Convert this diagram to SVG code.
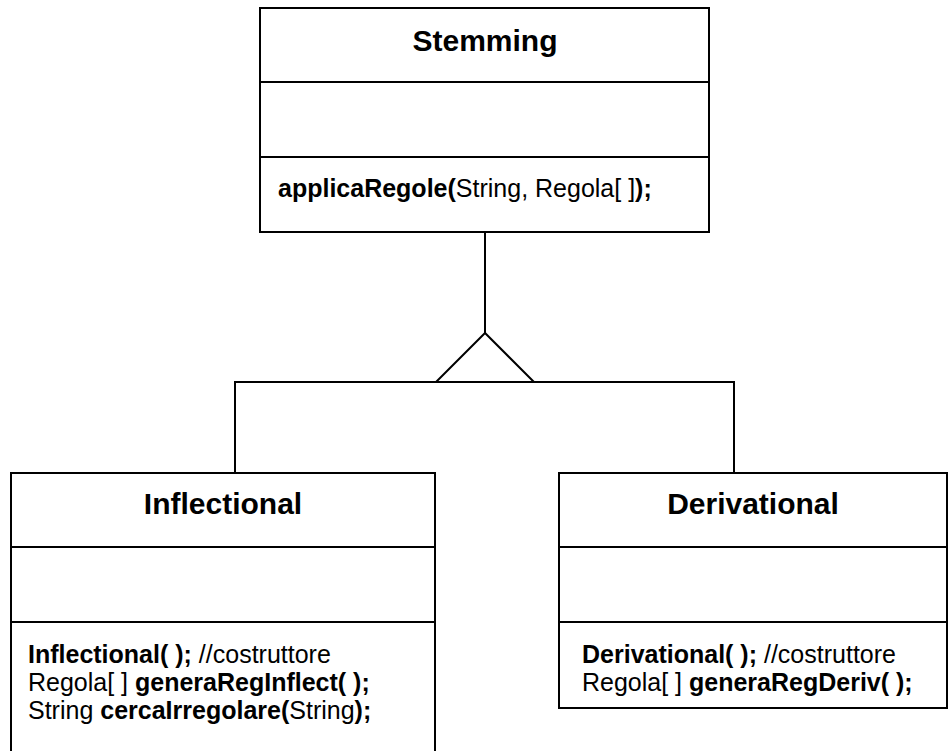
<svg xmlns="http://www.w3.org/2000/svg" width="949" height="751" viewBox="0 0 949 751">
  <style>
    .box { fill: #ffffff; stroke: #000000; stroke-width: 2; }
    .sep { stroke: #000000; stroke-width: 2; }
    .title { font-family: "Liberation Sans", Arial, sans-serif; font-size: 30px; font-weight: bold; fill: #000; text-anchor: middle; }
    .op { font-family: "Liberation Sans", Arial, sans-serif; font-size: 25px; fill: #000; }
    .b { font-weight: bold; }
    .conn { fill: none; stroke: #000000; stroke-width: 2; }
  </style>
  <rect width="949" height="751" fill="#ffffff"/>

  <!-- generalization connectors -->
  <g id="connectors">
    <line class="conn" x1="485" y1="232" x2="485" y2="333"/>
    <polygon class="conn" points="485,333 436,382 534,382"/>
    <polyline class="conn" points="235,473 235,382 734,382 734,473"/>
  </g>

  <!-- Stemming class -->
  <g id="stemming">
    <rect class="box" x="260" y="8" width="449" height="224"/>
    <line class="sep" x1="260" y1="82" x2="709" y2="82"/>
    <line class="sep" x1="260" y1="157" x2="709" y2="157"/>
    <text class="title" x="485" y="51">Stemming</text>
    <text class="op" x="278" y="197"><tspan class="b">applicaRegole(</tspan>String, Regola[ ]<tspan class="b">);</tspan></text>
  </g>

  <!-- Inflectional class -->
  <g id="inflectional">
    <rect class="box" x="11" y="473" width="424" height="290"/>
    <line class="sep" x1="11" y1="547" x2="435" y2="547"/>
    <line class="sep" x1="11" y1="622" x2="435" y2="622"/>
    <text class="title" x="223" y="514">Inflectional</text>
    <text class="op" x="28" y="663"><tspan class="b">Inflectional( );</tspan> //costruttore</text>
    <text class="op" x="28" y="691">Regola[ ] <tspan class="b">generaRegInflect( );</tspan></text>
    <text class="op" x="28" y="719">String <tspan class="b">cercaIrregolare(</tspan>String<tspan class="b">);</tspan></text>
  </g>

  <!-- Derivational class -->
  <g id="derivational">
    <rect class="box" x="559" y="473" width="388" height="235"/>
    <line class="sep" x1="559" y1="547" x2="947" y2="547"/>
    <line class="sep" x1="559" y1="622" x2="947" y2="622"/>
    <text class="title" x="753" y="514">Derivational</text>
    <text class="op" x="582" y="663"><tspan class="b">Derivational( );</tspan> //costruttore</text>
    <text class="op" x="582" y="691">Regola[ ] <tspan class="b">generaRegDeriv( );</tspan></text>
  </g>
</svg>
